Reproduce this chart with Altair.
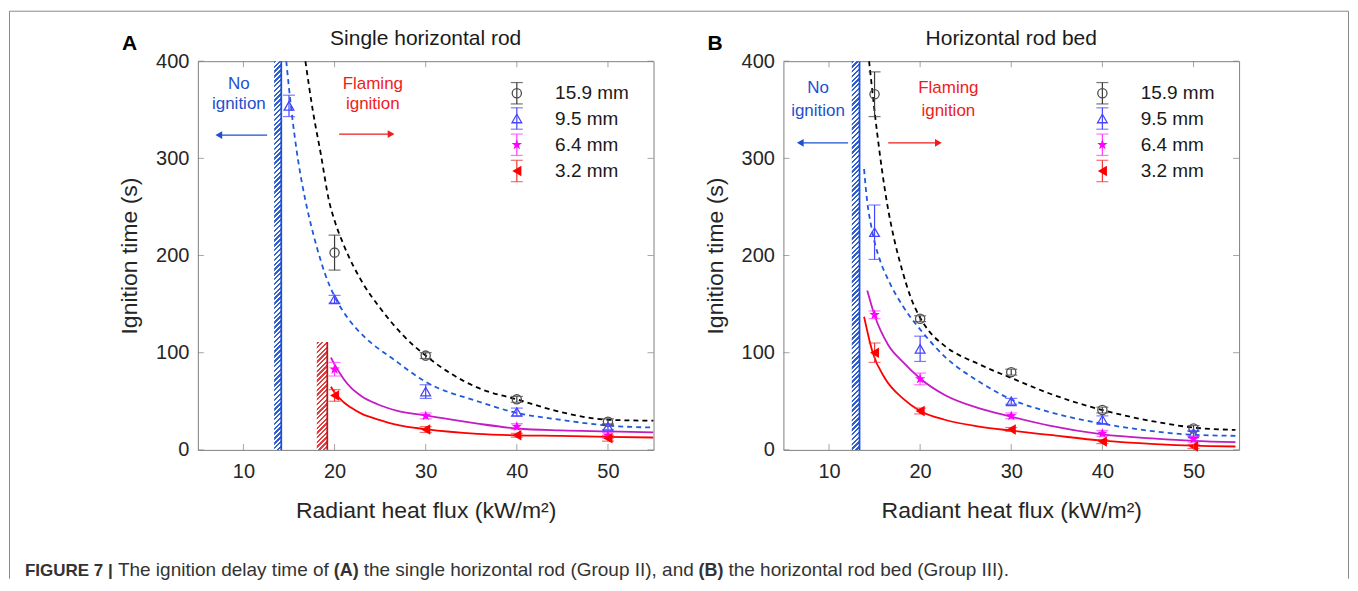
import altair as alt
import pandas as pd

# ---------------- data ----------------
x_tick_values = [10, 20, 30, 40, 50]
y_tick_values = [0, 100, 200, 300, 400]
sizes = ["15.9 mm", "9.5 mm", "6.4 mm", "3.2 mm"]

# Panel A : single horizontal rod (measured points, error half-widths)
a_159_x = [20, 30, 40, 50]
a_159_y = [203, 97, 52, 29]
a_159_e = [18, 3, 3, 3]
a_95_x = [15, 20, 30, 40, 50]
a_95_y = [354, 155, 60, 39, 24]
a_95_e = [11, 4, 7, 4, 3]
a_64_x = [20, 30, 40, 50]
a_64_y = [83, 35, 24, 15]
a_64_e = [7, 3, 3, 3]
a_32_x = [20, 30, 40, 50]
a_32_y = [56, 21, 15, 12]
a_32_e = [6, 3, 2, 3]

# Panel A fitted curves
a_c159_x = [16.8, 17.6, 18.5, 19.4, 20.0, 21.0, 23.2, 25.0, 27.5, 30.0, 35.7, 40.0, 44.8, 50.0, 55.0]
a_c159_y = [400, 350, 304, 256, 236, 211, 170, 146, 118, 97, 64, 52, 39, 31, 30]
a_c95_x = [14.7, 15.2, 16.0, 16.84, 17.4, 18.1, 19.0, 20.05, 21.5, 23.2, 26.5, 30.0, 35.7, 40.0, 44.8, 50.0, 55.0]
a_c95_y = [400, 355, 298, 255, 232, 207, 180, 157, 135, 117, 93, 70, 50, 38, 31, 25, 23]
a_c64_x = [19.6, 20.0, 21.0, 21.8, 23.0, 24.7, 27.0, 30.0, 35.7, 40.0, 44.8, 50.0, 55.0]
a_c64_y = [95, 88, 73, 64, 55, 47, 40, 35.5, 27, 22, 20, 19, 18]
a_c32_x = [19.6, 20.0, 21.0, 21.8, 23.0, 24.7, 27.0, 30.0, 35.7, 40.0, 44.8, 50.0, 55.0]
a_c32_y = [65, 59, 49, 43.5, 37, 31.5, 25.5, 21.3, 16.5, 15, 14.4, 13.4, 12.7]

# Panel B : horizontal rod bed
b_159_x = [15, 20, 30, 40, 50]
b_159_y = [366, 135, 80, 41, 22]
b_159_e = [23, 3, 3, 3, 3]
b_95_x = [15, 20, 30, 40, 50]
b_95_y = [224, 104, 50, 31, 17]
b_95_e = [28, 13, 3, 4, 3]
b_64_x = [15, 20, 30, 40, 50]
b_64_y = [139, 73, 35, 17, 11]
b_64_e = [4, 6, 3, 3, 3]
b_32_x = [15, 20, 30, 40, 50]
b_32_y = [100, 40, 21, 8.5, 3.5]
b_32_e = [10, 3, 2, 2, 2]

b_c159_x = [14.4, 15.3, 16.35, 17.2, 18.0, 18.85, 20.0, 21.0, 22.7, 26.5, 30.0, 34.2, 40.0, 45.8, 50.0, 54.6]
b_c159_y = [400, 325, 255, 215, 186, 160, 136, 122, 107, 88, 74, 58, 41, 29, 23, 20.5]
b_c95_x = [13.85, 14.2, 14.6, 15.0, 15.6, 16.5, 18.1, 20.0, 22.7, 26.5, 30.0, 34.2, 40.0, 45.8, 50.0, 54.6]
b_c95_y = [289, 255, 232, 214, 195, 175, 148, 124, 96, 70, 52, 39, 27, 19, 15.5, 14.5]
b_c64_x = [14.2, 15.0, 16.5, 18.1, 20.0, 22.7, 26.5, 30.0, 34.2, 40.0, 45.8, 50.0, 54.6]
b_c64_y = [164, 138.5, 108, 90.5, 73.5, 56.5, 42.7, 34.2, 25, 16, 11.5, 9.2, 7.9]
b_c32_x = [13.85, 14.8, 16.15, 18.1, 20.0, 22.7, 26.5, 30.0, 34.2, 40.0, 45.8, 50.0, 54.6]
b_c32_y = [137, 100, 73.5, 53, 40, 31, 24, 19.8, 15.4, 9.5, 6, 4.3, 3.5]

# legend entries (drawn inside the plot)
legend_x = [40, 40, 40, 40]
legend_y = [367, 341, 314, 287]
legend_e = [11, 11, 11, 11]
legend_label_x = [44.2, 44.2, 44.2, 44.2]

# hatched regions [x0, x1, y0, y1]
a_blue_band = [13.37, 14.15, 0, 400]
a_red_band = [18.05, 19.2, 0, 111]
b_blue_band = [12.5, 13.35, 0, 400]

# annotations
noign_text = ["No", "ignition"]
flame_text = ["Flaming", "ignition"]
a_text_y = [376, 355.5]
b_text_y = [372, 349]
a_noign_x, a_flame_x = 9.5, 24.2
b_noign_x, b_flame_x = 8.8, 23.1
# arrows: [x_start, x_tip, y]
a_blue_arrow = [12.6, 7.3, 324]
a_red_arrow = [20.5, 26.2, 325]
b_blue_arrow = [12.1, 6.85, 316]
b_red_arrow = [16.5, 22.0, 316]

titles = ["Single horizontal rod", "Horizontal rod bed"]
letters = ["A", "B"]
x_title = "Radiant heat flux (kW/m²)"
y_title = "Ignition time (s)"
caption = [
    ("FIGURE 7 |", "bold"),
    ("The ignition delay time of", "normal"),
    ("(A)", "bold"),
    ("the single horizontal rod (Group II), and", "normal"),
    ("(B)", "bold"),
    ("the horizontal rod bed (Group III).", "normal"),
]

# ---------------- styling ----------------
W, H = 456, 389
XDOM, YDOM = [5, 55], [0, 400]
FONT = "Liberation Sans"
STAR = ("M0,-1L0.235,-0.324L0.951,-0.309L0.38,0.124L0.588,0.809L0,0.4"
        "L-0.588,0.809L-0.38,0.124L-0.951,-0.309L-0.235,-0.324Z")
ST = {
    "15.9 mm": dict(shape="circle", filled=False, color="#4d4d4d", size=85, err="#3a3a3a",
                    line="#000000", dash=[5, 4]),
    "9.5 mm": dict(shape="triangle-up", filled=False, color="#4646ff", size=95, err="#4646ff",
                   line="#1f5bd8", dash=[5, 4]),
    "6.4 mm": dict(shape=STAR, filled=True, color="#ff00ff", size=120, err="#ff3cff",
                   line="#c21cc2", dash=None),
    "3.2 mm": dict(shape="triangle-left", filled=True, color="#ff0000", size=110, err="#f03535",
                   line="#ff0000", dash=None),
}
BLUE_TXT, RED_TXT = "#1d4fd1", "#ee1c1c"
# caption segment x offsets (relative to panel A plot origin) and font sizes
CAP_X = [-173, -80, 136, 166, 501, 531]
CAP_FS = [17, 19, 18, 19, 18, 19]


def X(field="x"):
    return alt.X(f"{field}:Q", scale=alt.Scale(domain=XDOM, nice=False, zero=False),
                 axis=alt.Axis(values=x_tick_values, title=x_title, format="d"))


def Y(field="y"):
    return alt.Y(f"{field}:Q", scale=alt.Scale(domain=YDOM, nice=False, zero=False),
                 axis=alt.Axis(values=y_tick_values, title=y_title, format="d"))


def hatch_fill(color, w, h, period=3.4, duty=0.5):
    k = (w + h) / (w * w + h * h)
    n = max(1, int(round((w + h) / (period * 2 ** 0.5))))
    stops = []
    for i in range(n):
        s, m, e = i / n, (i + duty) / n, (i + 1) / n
        stops += [{"offset": s, "color": color}, {"offset": m, "color": color},
                  {"offset": m, "color": "#ffffff"}, {"offset": e, "color": "#ffffff"}]
    return {"gradient": "linear", "x1": 0, "y1": 0, "x2": w * k, "y2": h * k, "stops": stops}


def series_layers(xs, ys, es, li, name):
    st = ST[name]
    xx = list(xs) + [legend_x[li]]
    yy = list(ys) + [legend_y[li]]
    ee = list(es) + [legend_e[li]]
    df = pd.DataFrame({"x": xx, "y": yy,
                       "lo": [a - b for a, b in zip(yy, ee)],
                       "hi": [a + b for a, b in zip(yy, ee)]})
    base = alt.Chart(df)
    rule = base.mark_rule(color=st["err"], strokeWidth=1.2).encode(x=X(), y=Y("lo"), y2="hi:Q")
    cap1 = base.mark_tick(orient="horizontal", size=12, thickness=1.2, color=st["err"]).encode(x=X(), y=Y("lo"))
    cap2 = base.mark_tick(orient="horizontal", size=12, thickness=1.2, color=st["err"]).encode(x=X(), y=Y("hi"))
    pk = dict(shape=st["shape"], filled=st["filled"], size=st["size"], opacity=1)
    if st["filled"]:
        pk.update(fill=st["color"], strokeWidth=0)
    else:
        pk.update(stroke=st["color"], strokeWidth=1.3)
    pts = base.mark_point(**pk).encode(x=X(), y=Y())
    return [rule, cap1, cap2, pts]


def curve_layer(xs, ys, name):
    st = ST[name]
    kw = dict(color=st["line"], strokeWidth=1.8, interpolate="monotone", clip=True)
    if st["dash"]:
        kw["strokeDash"] = st["dash"]
    return alt.Chart(pd.DataFrame({"x": xs, "y": ys})).mark_line(**kw).encode(x=X(), y=Y())


def band_layers(band, color, edge):
    x0, x1, y0, y1 = band
    wpx = (x1 - x0) / (XDOM[1] - XDOM[0]) * W
    hpx = (y1 - y0) / (YDOM[1] - YDOM[0]) * H
    df = pd.DataFrame({"x0": [x0], "x1": [x1], "y0": [y0], "y1": [y1]})
    rect = alt.Chart(df).mark_rect(fill=hatch_fill(color, wpx, hpx), strokeWidth=0).encode(
        x=X("x0"), x2="x1:Q", y=Y("y0"), y2="y1:Q")
    line = alt.Chart(df).mark_rule(color=edge, strokeWidth=1.8).encode(x=X("x1"), y=Y("y0"), y2="y1:Q")
    return [rect, line]


def text_layer(txts, xs, ys, color, size=17, align="center"):
    df = pd.DataFrame({"t": txts, "x": xs, "y": ys})
    return alt.Chart(df).mark_text(font=FONT, fontSize=size, color=color, align=align,
                                   baseline="middle").encode(x=X(), y=Y(), text="t:N")


def arrow_layers(arr, color, head):
    xs, xt, yv = arr
    df = pd.DataFrame({"x": [xs], "x2": [xt], "y": [yv]})
    shaft = alt.Chart(df).mark_rule(color=color, strokeWidth=1.3).encode(x=X(), x2="x2:Q", y=Y())
    tip = alt.Chart(df).mark_point(shape=head, filled=True, fill=color, size=60, opacity=1,
                                   strokeWidth=0).encode(x=X("x2"), y=Y())
    return [shaft, tip]


def inner_ticks():
    dx = pd.DataFrame({"x": x_tick_values})
    dy = pd.DataFrame({"y": y_tick_values})
    out = []
    for yv in (H - 3, 3):
        out.append(alt.Chart(dx).mark_tick(orient="vertical", size=6, thickness=1, color="#7f7f7f")
                   .encode(x=X(), y=alt.value(yv)))
    for xv in (3, W - 3):
        out.append(alt.Chart(dy).mark_tick(orient="horizontal", size=6, thickness=1, color="#7f7f7f")
                   .encode(y=Y(), x=alt.value(xv)))
    return out


def label_text(txt, x, y, size, weight="normal", align="center", color="#1a1a1a", font=FONT):
    return alt.Chart(pd.DataFrame({"t": [txt]})).mark_text(
        font=font, fontSize=size, fontWeight=weight, align=align, baseline="alphabetic",
        color=color).encode(text="t:N", x=alt.value(x), y=alt.value(y))


def panel(series, curves, band_list, txt_y, noign_x, flame_x, barrow, rarrow, title, letter, letter_dx):
    layers = []
    for b, c, e in band_list:
        layers += band_layers(b, c, e)
    for (xs, ys), name in zip(curves, sizes):
        layers.append(curve_layer(xs, ys, name))
    for i, ((xs, ys, es), name) in enumerate(zip(series, sizes)):
        layers += series_layers(xs, ys, es, i, name)
    layers.append(text_layer(sizes, legend_label_x, legend_y, "#1a1a1a", size=19, align="left"))
    layers.append(text_layer(noign_text, [noign_x] * 2, txt_y, BLUE_TXT))
    layers.append(text_layer(flame_text, [flame_x] * 2, txt_y, RED_TXT))
    layers += arrow_layers(barrow, BLUE_TXT, "triangle-left")
    layers += arrow_layers(rarrow, RED_TXT, "triangle-right")
    layers += inner_ticks()
    layers.append(label_text(title, W / 2, -16, 21))
    layers.append(label_text(letter, letter_dx, -11, 21, weight="bold", align="left", color="#000000"))
    return layers


layers_a = panel(
    [(a_159_x, a_159_y, a_159_e), (a_95_x, a_95_y, a_95_e), (a_64_x, a_64_y, a_64_e), (a_32_x, a_32_y, a_32_e)],
    [(a_c159_x, a_c159_y), (a_c95_x, a_c95_y), (a_c64_x, a_c64_y), (a_c32_x, a_c32_y)],
    [(a_blue_band, "#2f5fd0", "#1f4fd8"), (a_red_band, "#e04040", "#c01818")],
    a_text_y, a_noign_x, a_flame_x, a_blue_arrow, a_red_arrow, titles[0], letters[0], -76)

# figure frame + caption (decoration, placed in panel A's coordinate frame)
one = pd.DataFrame({"k": [0]})
FRAME = "#8a8a8a"
layers_a.append(alt.Chart(one).mark_rule(color=FRAME, strokeWidth=1).encode(
    x=alt.value(-188.5), x2=alt.value(1151.5), y=alt.value(-50)))
layers_a.append(alt.Chart(one).mark_rule(color=FRAME, strokeWidth=1).encode(
    x=alt.value(-188.5), y=alt.value(-50), y2=alt.value(518)))
layers_a.append(alt.Chart(one).mark_rule(color=FRAME, strokeWidth=1).encode(
    x=alt.value(1151.5), y=alt.value(-50), y2=alt.value(518)))
for (txt, wgt), cx, fs in zip(caption, CAP_X, CAP_FS):
    layers_a.append(label_text(txt, cx, 515, fs, weight=wgt, align="left", color="#333333"))

layers_b = panel(
    [(b_159_x, b_159_y, b_159_e), (b_95_x, b_95_y, b_95_e), (b_64_x, b_64_y, b_64_e), (b_32_x, b_32_y, b_32_e)],
    [(b_c159_x, b_c159_y), (b_c95_x, b_c95_y), (b_c64_x, b_c64_y), (b_c32_x, b_c32_y)],
    [(b_blue_band, "#2f5fd0", "#1f4fd8")],
    b_text_y, b_noign_x, b_flame_x, b_blue_arrow, b_red_arrow, titles[1], letters[1], -76)

panel_a = alt.layer(*layers_a).properties(width=W, height=H)
panel_b = alt.layer(*layers_b).properties(width=W, height=H)

chart = alt.hconcat(panel_a, panel_b, spacing=130, bounds="flush").properties(
    padding={"left": 0, "top": 2, "right": 0, "bottom": 0}
).configure_view(stroke="#7f7f7f", strokeWidth=1).configure_axis(
    labelFont=FONT, labelFontSize=20, labelColor="#262626", titleFont=FONT, titleFontSize=23,
    titleFontWeight="normal", titleColor="#262626", ticks=False, domain=False, grid=False
).configure_axisX(labelPadding=12, titlePadding=18).configure_axisY(labelPadding=9, titlePadding=14)

chart.save("out.html", embed_options={"renderer": "svg", "actions": False})
